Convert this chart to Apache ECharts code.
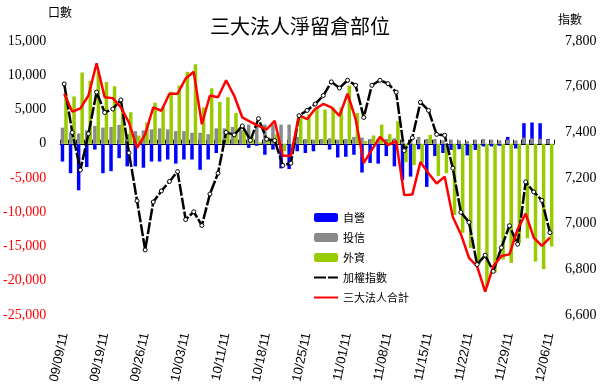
<!DOCTYPE html>
<html><head><meta charset="utf-8">
<script src="https://cdn.jsdelivr.net/npm/echarts@6/dist/echarts.min.js"></script>
<style>html,body{margin:0;padding:0;background:#fff}#c{width:600px;height:386px}</style>
</head><body><div id="c"></div>
<script>
const dates = ['09/09/11','09/13/11','09/14/11','09/15/11','09/16/11','09/19/11','09/20/11','09/21/11','09/22/11','09/23/11',
 '09/26/11','09/27/11','09/28/11','09/29/11','09/30/11','10/03/11','10/04/11','10/05/11','10/06/11','10/07/11',
 '10/11/11','10/12/11','10/13/11','10/14/11','10/17/11','10/18/11','10/19/11','10/20/11','10/21/11','10/24/11',
 '10/25/11','10/26/11','10/27/11','10/28/11','10/31/11','11/01/11','11/02/11','11/03/11','11/04/11','11/07/11',
 '11/08/11','11/09/11','11/10/11','11/11/11','11/14/11','11/15/11','11/16/11','11/17/11','11/18/11','11/21/11',
 '11/22/11','11/23/11','11/24/11','11/25/11','11/28/11','11/29/11','11/30/11','12/01/11','12/02/11','12/05/11',
 '12/06/11'];
const dealers = [-2600,-4300,-6800,-3400,-850,-4300,-4000,-2100,-3300,-3300,
 -3500,-2600,-2600,-2300,-2900,-2300,-2300,-3800,-2300,-1350,
 -150,-100,-200,-600,-300,-1600,-850,-3600,-3700,-1100,
 -1350,-1100,-150,-850,-2000,-1900,-1600,-4200,-2800,-2900,
 -1800,-3300,-5300,-4800,-800,-6300,-1800,-1350,-900,-800,
 -1700,-900,-400,-400,-300,1000,-700,3000,3100,3000,
 700];
const trusts = [2350,1600,1500,1950,2600,2350,2450,2750,1400,1850,
 1950,2100,2250,2100,1850,1850,1600,1600,1400,2250,
 2250,2450,2000,2800,2800,2800,2800,2800,2800,1000,
 700,600,700,800,600,700,1000,900,700,600,
 700,800,500,600,1000,700,700,500,600,500,
 400,600,700,600,500,600,500,900,800,700,
 600];
const foreign = [7300,6900,10400,9200,10500,9000,8400,5000,4600,1200,
 3100,6000,5300,7600,8500,10500,11600,5300,8100,6100,
 6800,4500,2000,1000,200,900,1400,-1100,-800,3800,
 4300,5300,5000,5300,5300,8500,4500,400,1200,2800,
 1400,3300,-2700,-3100,-2800,1300,-4700,-4300,-10400,-13000,
 -15200,-17600,-20800,-18800,-16900,-17400,-14500,-13800,-17200,-18300,
 -15000];
const taiex = [7612,7399,7235,7394,7576,7487,7502,7542,7310,7100,
 6885,7095,7143,7185,7228,7018,7052,6992,7130,7221,
 7400,7389,7428,7365,7460,7370,7364,7255,7265,7473,
 7496,7524,7561,7621,7594,7628,7606,7465,7606,7628,
 7613,7576,7320,7376,7532,7496,7391,7387,7243,7050,
 7006,6821,6862,6791,6895,6991,6910,7183,7139,7102,
 6961];
const total = [7300,4680,5170,7040,11740,6800,6660,5320,3100,-600,
 1370,5320,4820,7300,7300,9520,10500,2850,7040,6800,
 9270,7000,3840,3200,2600,2100,3350,-1740,-1740,4180,
 3590,5070,5810,5320,4080,7300,3590,-2800,-900,1000,
 -200,400,-7500,-7420,-2680,-4300,-5800,-4800,-10700,-13200,
 -16650,-17900,-21600,-17900,-16400,-16150,-12500,-10200,-13700,-14900,
 -13700];
const names = ['自營','投信','外資','加權指數','三大法人合計'];
const leftMin = -25000, leftMax = 15000, leftStep = 5000;
const rightMin = 6600, rightMax = 7800, rightStep = 200;

const fmt = v => String(v).replace(/\B(?=(\d{3})+(?!\d))/g, ',');
const serif = 'Liberation Serif';
const cjk = 'Noto Sans CJK TC';

const chart = echarts.init(document.getElementById('c'), null, {renderer: 'canvas'});
chart.setOption({
  animation: false,
  backgroundColor: '#fff',
  title: {text: '三大法人淨留倉部位', left: 'center', top: 11,
    textStyle: {fontFamily: cjk, fontSize: 20, fontWeight: 'normal', color: '#000'}},
  graphic: [
    {type: 'text', left: 48, top: 6, style: {text: '口數', font: '12px "Noto Sans CJK TC"', fill: '#000'}},
    {type: 'text', left: 558, top: 13, style: {text: '指數', font: '12px "Noto Sans CJK TC"', fill: '#000'}}
  ],
  legend: {
    orient: 'vertical', left: 308, top: 207, itemWidth: 24, itemHeight: 9, itemGap: 9,
    textStyle: {fontFamily: cjk, fontSize: 11, color: '#000'},
    data: [
      {name: names[0]}, {name: names[1]}, {name: names[2]},
      {name: names[3], itemStyle: {opacity: 0}},
      {name: names[4], itemStyle: {opacity: 0}}
    ]
  },
  grid: {left: 56, right: 46, top: 41, bottom: 71},
  xAxis: [
    {type: 'category', data: dates, position: 'bottom',
      axisLine: {onZero: true, onZeroAxisIndex: 0, lineStyle: {color: '#000', width: 1}},
      axisTick: {show: true, inside: true, length: 4, interval: 0, lineStyle: {color: '#000'}},
      axisLabel: {show: false}, splitLine: {show: false}},
    {type: 'category', data: dates, position: 'bottom',
      axisLine: {show: false, onZero: false}, axisTick: {show: false},
      axisLabel: {interval: 4, rotate: 78, margin: 18, fontFamily: 'Liberation Sans', fontSize: 13, color: '#000'},
      splitLine: {show: false}}
  ],
  yAxis: [
    {type: 'value', min: leftMin, max: leftMax, interval: leftStep,
      axisLine: {show: false}, axisTick: {show: false}, splitLine: {show: false},
      axisLabel: {margin: 14, fontFamily: serif, fontSize: 14,
        formatter: v => fmt(v), color: v => Number(v) < 0 ? '#ff0000' : '#000'}},
    {type: 'value', min: rightMin, max: rightMax, interval: rightStep, position: 'right',
      axisLine: {show: false}, axisTick: {show: false}, splitLine: {show: false},
      axisLabel: {margin: 11, fontFamily: serif, fontSize: 14, color: '#000', formatter: v => fmt(v)}}
  ],
  series: [
    {name: names[0], type: 'bar', xAxisIndex: 0, yAxisIndex: 0, data: dealers,
      barWidth: 3.5, barGap: '0%', itemStyle: {color: '#0000ff'}},
    {name: names[2], type: 'bar', xAxisIndex: 0, yAxisIndex: 0, data: foreign,
      barWidth: 3.5, barGap: '0%', itemStyle: {color: '#99cc00'}},
    {name: names[1], type: 'bar', xAxisIndex: 1, yAxisIndex: 0, data: trusts,
      barWidth: 3.5, barGap: '0%', itemStyle: {color: '#8a8a8a'}},
    {name: 'spacer', type: 'bar', xAxisIndex: 1, yAxisIndex: 0, data: [],
      barWidth: 3.5, barGap: '0%', silent: true},
    {name: names[3], type: 'line', xAxisIndex: 0, yAxisIndex: 1, data: taiex,
      symbol: 'circle', symbolSize: 4, showSymbol: true,
      itemStyle: {color: '#fff', borderColor: '#000', borderWidth: 1},
      lineStyle: {color: '#000', width: 2.5, type: [12, 2]}},
    {name: names[4], type: 'line', xAxisIndex: 0, yAxisIndex: 0, data: total,
      symbol: 'none', itemStyle: {color: '#ff0000'},
      lineStyle: {color: '#ff0000', width: 2.5}}
  ]
});
</script>
</body></html>
